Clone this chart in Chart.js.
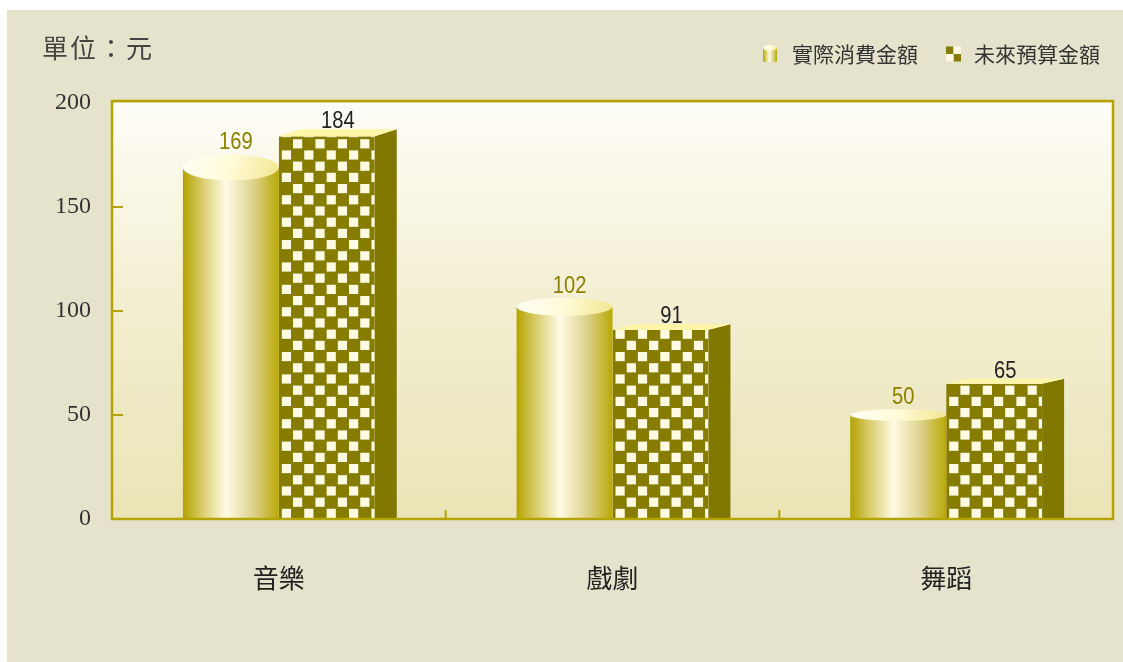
<!DOCTYPE html>
<html>
<head>
<meta charset="utf-8">
<script src="https://cdn.jsdelivr.net/npm/chart.js@4.4.0/dist/chart.umd.min.js"></script>
<style>
  html, body { margin: 0; padding: 0; background: #ffffff; }
  #wrap { width: 1123px; height: 662px; }
</style>
</head>
<body>
<div id="wrap"><canvas id="chart" width="1123" height="662"></canvas></div>
<script>
// 資料
const categories = ['音樂', '戲劇', '舞蹈'];
const actualSpend = [169, 102, 50];
const futureBudget = [184, 91, 65];
const yTicks = [0, 50, 100, 150, 200];
const seriesNames = ['實際消費金額', '未來預算金額'];

const OLIVE = '#857c00';
const CREAM = '#fffbe3';
const BORDER = '#b4a400';
const CJK = '"Noto Sans CJK TC", "Noto Sans", sans-serif';

function drawChecker(ctx, x0, x1, top, base, cell) {
    ctx.save();
    ctx.beginPath();
    ctx.rect(x0, top, x1 - x0, base - top);
    ctx.clip();
    ctx.fillStyle = OLIVE;
    ctx.fillRect(x0, top, x1 - x0, base - top);
    ctx.fillStyle = CREAM;
    const rows = Math.ceil((base - top) / cell) + 1;
    const cols = Math.ceil((x1 - x0) / cell) + 1;
    for (let r = 0; r < rows; r++) {
        for (let c = 0; c < cols; c++) {
            if ((r + c) % 2 !== 0) continue;
            const x = x0 + 2 + c * cell;
            const y = base - (r + 1) * cell;
            ctx.fillRect(x + 1, y + 1, cell - 2, cell - 2);
        }
    }
    ctx.restore();
}

function drawCylinder(ctx, x0, x1, yTop, base, ry) {
    const g = ctx.createLinearGradient(x0, 0, x1, 0);
    g.addColorStop(0, '#b3a300');
    g.addColorStop(0.2, '#d9cc6a');
    g.addColorStop(0.45, '#fffbe6');
    g.addColorStop(0.75, '#dccf86');
    g.addColorStop(1, '#b8a904');
    ctx.fillStyle = g;
    ctx.fillRect(x0, yTop, x1 - x0, base - yTop);
    const cx = (x0 + x1) / 2;
    const tg = ctx.createLinearGradient(x0, yTop - ry, x1, yTop + ry);
    tg.addColorStop(0, '#fffff6');
    tg.addColorStop(0.5, '#fffbd8');
    tg.addColorStop(1, '#f1e68f');
    ctx.fillStyle = tg;
    ctx.beginPath();
    ctx.ellipse(cx, yTop, (x1 - x0) / 2, ry, 0, 0, Math.PI * 2);
    ctx.fill();
}

function drawBox(ctx, x0, x1, y, base, depth, rise) {
    drawChecker(ctx, x0, x1, y, base, 11.2);
    ctx.fillStyle = '#817800';
    ctx.beginPath();
    ctx.moveTo(x1, y);
    ctx.lineTo(x1 + depth, y - rise);
    ctx.lineTo(x1 + depth, base);
    ctx.lineTo(x1, base);
    ctx.closePath();
    ctx.fill();
    ctx.fillStyle = '#fff5a6';
    ctx.beginPath();
    ctx.moveTo(x0, y);
    ctx.lineTo(x1, y);
    ctx.lineTo(x1 + depth, y - rise);
    ctx.lineTo(x0 + depth, y - rise);
    ctx.closePath();
    ctx.fill();
}

// 窄體數字標籤
function narrowText(ctx, text, x, y, color) {
    ctx.save();
    ctx.translate(x, y);
    ctx.scale(0.84, 1);
    ctx.fillStyle = color;
    ctx.fillText(text, 0, 0);
    ctx.restore();
}

const panelPlugin = {
    id: 'panel',
    beforeDraw(chart) {
        const ctx = chart.ctx;
        const a = chart.chartArea;
        ctx.save();
        ctx.fillStyle = '#e6e3cc';
        ctx.fillRect(7, 10, chart.width - 7, chart.height - 10);
        const g = ctx.createLinearGradient(0, a.top, 0, a.bottom);
        g.addColorStop(0, '#fefdf7');
        g.addColorStop(0.5, '#f2eed0');
        g.addColorStop(1, '#ebe4b6');
        ctx.fillStyle = g;
        ctx.fillRect(a.left, a.top, a.right - a.left, a.bottom - a.top);

        // 單位
        ctx.fillStyle = '#444';
        ctx.font = '26px ' + CJK;
        ctx.textBaseline = 'middle';
        ctx.letterSpacing = '2px';
        ctx.fillText('單位：元', 42, 48);
        ctx.letterSpacing = '0px';

        // 圖例
        const lx0 = 763, ly = 54;
        drawCylinder(ctx, lx0, lx0 + 14, ly - 6, ly + 8, 3);
        ctx.fillStyle = '#333';
        ctx.font = '21px ' + CJK;
        ctx.fillText(seriesNames[0], 792, ly);
        const cx0 = 946, s = 7.5;
        ctx.fillStyle = OLIVE;
        ctx.fillRect(cx0, ly - s, s, s);
        ctx.fillRect(cx0 + s, ly, s, s);
        ctx.fillStyle = CREAM;
        ctx.fillRect(cx0 + s, ly - s, s, s);
        ctx.fillRect(cx0, ly, s, s);
        ctx.fillStyle = '#333';
        ctx.fillText(seriesNames[1], 974, ly);
        ctx.restore();
    },
    afterDatasetsDraw(chart) {
        const ctx = chart.ctx;
        const a = chart.chartArea;
        const y = chart.scales.y;
        const x = chart.scales.x;
        ctx.save();
        const m0 = chart.getDatasetMeta(0);
        const m1 = chart.getDatasetMeta(1);
        const depth = 22;
        ctx.font = '24px "Liberation Sans", Arial, sans-serif';
        ctx.textAlign = 'center';
        ctx.textBaseline = 'alphabetic';
        m0.data.forEach((bar, i) => {
            const x0 = bar.x - bar.width / 2, x1 = bar.x + bar.width / 2;
            const ry = Math.max(4, (617 - bar.y) * 0.029);
            drawCylinder(ctx, x0, x1, bar.y, bar.base, ry);
            narrowText(ctx, String(actualSpend[i]), bar.x + 5, bar.y - ry - 5, '#8b8000');
        });
        m1.data.forEach((bar, i) => {
            const x0 = bar.x - bar.width / 2, x1 = bar.x + bar.width / 2;
            const rise = 4 + (bar.base - bar.y) * 0.008;
            drawBox(ctx, x0, x1, bar.y, bar.base, depth, rise);
            narrowText(ctx, String(futureBudget[i]), x0 + (bar.width + depth) / 2, bar.y - rise - 1, '#222');
        });

        // 框線與刻度
        ctx.strokeStyle = BORDER;
        ctx.lineWidth = 2.5;
        ctx.strokeRect(a.left, a.top - 2, a.right - a.left, a.bottom - a.top + 2);
        ctx.lineWidth = 2;
        yTicks.slice(1, -1).forEach(v => {
            const py = y.getPixelForValue(v);
            ctx.beginPath();
            ctx.moveTo(a.left, py);
            ctx.lineTo(a.left + 11, py);
            ctx.stroke();
        });
        for (let i = 1; i < categories.length; i++) {
            const px = (x.getPixelForValue(i - 1) + x.getPixelForValue(i)) / 2;
            ctx.beginPath();
            ctx.moveTo(px, a.bottom);
            ctx.lineTo(px, a.bottom - 9);
            ctx.stroke();
        }
        ctx.restore();
    }
};

new Chart(document.getElementById('chart'), {
    type: 'bar',
    data: {
        labels: categories,
        datasets: [
            { label: seriesNames[0], data: actualSpend, backgroundColor: 'rgba(0,0,0,0)' },
            { label: seriesNames[1], data: futureBudget, backgroundColor: 'rgba(0,0,0,0)' }
        ]
    },
    options: {
        responsive: false,
        animation: false,
        events: [],
        layout: { padding: { left: 0, top: 103, right: 10, bottom: 0 } },
        datasets: { bar: { categoryPercentage: 0.575, barPercentage: 1 } },
        plugins: { legend: { display: false }, tooltip: { enabled: false } },
        scales: {
            x: {
                grid: { display: false },
                border: { display: false },
                ticks: { color: '#222', font: { family: CJK, size: 26 }, padding: 36 },
                afterFit(scale) { scale.height = 143; }
            },
            y: {
                min: 0,
                max: 200,
                grid: { display: false },
                border: { display: false },
                afterBuildTicks(scale) { scale.ticks = yTicks.map(v => ({ value: v })); },
                ticks: { color: '#333', font: { family: '"Liberation Serif", "DejaVu Serif", serif', size: 24 }, padding: 13 },
                afterFit(scale) { scale.width = 112; }
            }
        }
    },
    plugins: [panelPlugin]
});
</script>
</body>
</html>
